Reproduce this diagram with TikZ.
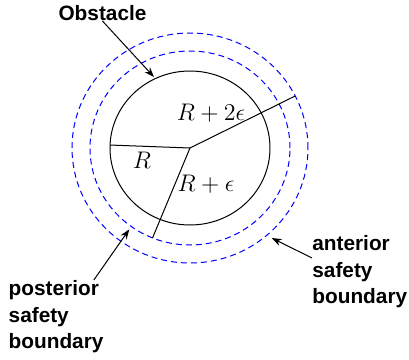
\documentclass[tikz,border=0pt]{standalone}
\usepackage{fontspec}
\newfontfamily\labelfont{Liberation Sans}
\usetikzlibrary{arrows.meta, positioning}

\begin{document}
\begin{tikzpicture}[
    x=0.5pt, y=0.5pt,
    obstacle/.style={draw=black, line width=0.5pt},
    boundary/.style={draw=blue, line width=0.5pt, dash pattern=on 3pt off 2pt},
    radiusline/.style={draw=black, line width=0.5pt},
    caption/.style={font=\labelfont\bfseries\fontsize{10.4}{13.3}\selectfont, align=left, inner sep=0pt},
    mathlabel/.style={font=\fontsize{12}{14}\selectfont, inner sep=0pt},
    arrow/.style={-{Stealth[length=5pt, width=3.6pt]}, line width=0.5pt}
]
    \useasboundingbox (-190,-212) rectangle (219,148);

    % Obstacle and safety boundaries
    \coordinate (centre) at (0,0);
    \draw[obstacle] (centre) ellipse [x radius=80, y radius=77];
    \draw[boundary] (centre) ellipse [x radius=100, y radius=97];
    \draw[boundary] (centre) ellipse [x radius=118, y radius=115];

    % Radii
    \coordinate (r in) at (177.8:80 and 77);
    \coordinate (r mid) at (248:100 and 97);
    \coordinate (r out) at (26.9:118 and 115);
    \draw[radiusline] (centre) -- (r in);
    \draw[radiusline] (centre) -- (r mid);
    \draw[radiusline] (centre) -- (r out);

    \node[mathlabel] (lbl r) at (-48,-12) {$R$};
    \node[mathlabel] (lbl r2eps) at (21,35) {$R+2\epsilon$};
    \node[mathlabel] (lbl reps) at (16,-36) {$R+\epsilon$};

    % Captions
    \node[caption] (obstacle) at (-87.5,135) {Obstacle};
    \node[caption, anchor=west] (anterior) at (122,-123.7) {anterior\\safety\\boundary};
    \node[caption, anchor=west] (posterior) at (-181.7,-168.7) {posterior\\safety\\boundary};

    \coordinate (obs tip) at (-36,71);
    \coordinate (ant tip) at (81.7,-90);
    \coordinate (post tip) at (-60.7,-81.3);

    \draw[arrow] (obstacle.south) -- (obs tip);
    \draw[arrow] ([yshift=-11.5pt]anterior.north west) -- (ant tip);
    \draw[arrow] ([xshift=-5pt]posterior.north east) -- (post tip);

\end{tikzpicture}
\end{document}
